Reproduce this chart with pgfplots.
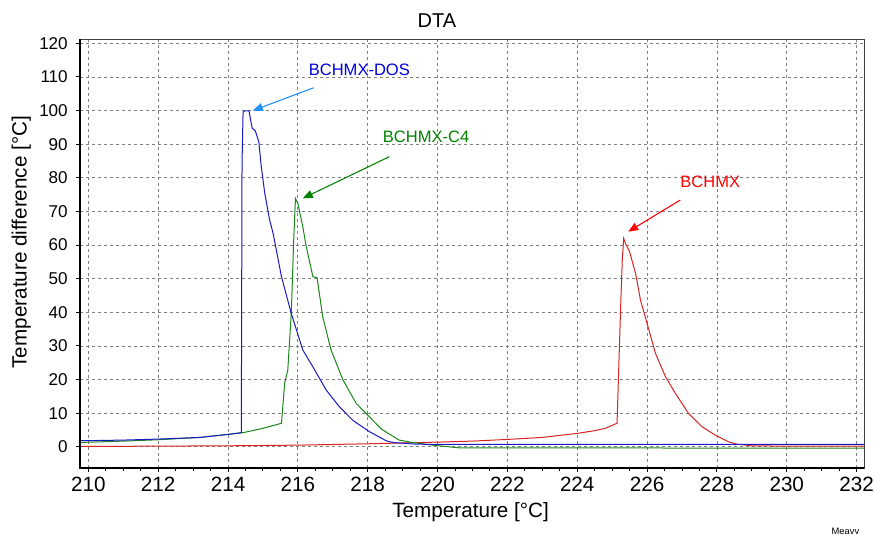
\documentclass[border=0pt]{standalone}
\usepackage{pgfplots}
\pgfplotsset{compat=1.18}
\usepackage{fontspec}
\setmainfont{Liberation Sans}
\usetikzlibrary{arrows.meta}

\definecolor{dosline}{RGB}{25,25,195}
\definecolor{c4line}{RGB}{25,135,25}
\definecolor{bline}{RGB}{215,35,35}
\definecolor{dostext}{RGB}{0,0,225}
\definecolor{dosarrow}{RGB}{30,144,255}
\definecolor{c4text}{RGB}{0,128,0}
\definecolor{btext}{RGB}{255,0,0}

\begin{document}
\begin{tikzpicture}
\useasboundingbox (-60pt,-51pt) rectangle (595.5pt,351pt);
\begin{axis}[
    scale only axis,
    width=588.2pt, height=321.5pt,
    xmin=209.76, xmax=232.22,
    ymin=-6.3, ymax=121.2,
    xtick={210,212,...,232},
    ytick={0,10,...,120},
    minor x tick num=3,
    tick align=outside,
    xtick pos=bottom, ytick pos=left,
    major tick length=3pt, minor tick length=2pt,
    tick style={black, line width=0.75pt},
    axis line style={draw=black!75, line width=0.75pt},
    grid=major,
    major grid style={gray, dash pattern=on 2.25pt off 2.25pt, line width=0.6pt},
    /pgf/number format/assume math mode=true,
    xticklabel style={font=\fontsize{15.5}{18}\selectfont, anchor=base, inner sep=0pt, yshift=-14.5pt},
    yticklabel style={font=\fontsize{12.8}{15}\selectfont, anchor=east, inner sep=0pt, xshift=-6pt},
    title={DTA},
    title style={at={(axis description cs:0.455,1.0252)}, anchor=center, font=\fontsize{15}{18}\selectfont},
    xlabel={Temperature [°C]},
    xlabel style={at={(axis description cs:0.498,-0.1143)}, anchor=base, font=\fontsize{15.5}{18}\selectfont},
    ylabel={Temperature difference [°C]},
    ylabel style={at={(axis description cs:-0.068,0.527)}, anchor=base, font=\fontsize{15.5}{18}\selectfont},
    clip=false,
]
% BCHMX
\addplot[bline, line width=0.75pt] coordinates {
    (209.76,0.1) (212,0.2) (214,0.3) (216,0.5) (218,0.9) (220,1.4) (221,1.7)
    (222,2.2) (223,2.8) (224,4.0) (224.5,4.8) (224.8,5.5) (225.14,7.0)
    (225.24,40.7) (225.29,55.6) (225.33,62.0) (225.38,60.5) (225.5,58.0)
    (225.67,51.6) (225.81,43.7) (226.0,36.7) (226.24,27.8) (226.53,20.8)
    (226.81,15.9) (227.19,9.9) (227.57,6.0) (227.95,3.5) (228.33,1.5)
    (228.57,0.8) (229.0,0.3) (230,0.2) (232.22,0.2)
};
% BCHMX-C4
\addplot[c4line, line width=0.75pt] coordinates {
    (209.76,1.3) (211,1.7) (212,2.1) (213.2,2.8) (214,3.7) (214.43,4.2)
    (215,5.5) (215.53,7.0) (215.62,18.9) (215.71,22.8) (215.81,39.7)
    (215.84,48.6) (215.88,61.5) (215.93,73.9) (216.0,72.4) (216.14,65.5)
    (216.24,59.5) (216.43,50.6) (216.55,50.3) (216.71,38.7) (216.95,28.8)
    (217.29,19.9) (217.67,12.9) (218.05,8.9) (218.4,5.2) (218.9,2.0)
    (219.29,1.3) (219.86,0.5) (220.62,-0.3) (232.22,-0.4)
};
% BCHMX-DOS
\addplot[dosline, line width=0.75pt] coordinates {
    (209.76,1.8) (211,2.0) (212,2.3) (213.2,2.8) (214,3.7) (214.38,4.2)
    (214.40,84) (214.43,99.5) (214.47,99.9) (214.6,99.9) (214.69,94.8)
    (214.78,94.0) (214.88,90.8) (214.95,83.5) (215.05,75.5) (215.19,67.5)
    (215.29,63.5) (215.53,50.6) (215.81,39.7) (216.14,28.8) (216.43,23.8)
    (216.81,16.9) (217.19,11.9) (217.57,7.9) (218.05,4.5) (218.53,1.8)
    (218.71,1.3) (219.38,0.8) (220,0.7) (232.22,0.7)
};
% frame: heavier left and bottom lines
\draw[black, line width=1.5pt] (axis description cs:0,1) -- (axis description cs:0,0) -- (axis description cs:1,0);
% annotations
\node[dostext, font=\fontsize{12.4}{14}\selectfont] at (axis cs:217.76,112.1) {BCHMX-DOS};
\draw[dosarrow, line width=0.8pt, -{Triangle[length=7.5pt,width=6pt]}] (axis cs:216.45,106.8) -- (axis cs:214.71,100.0);
\node[c4text, font=\fontsize{12.4}{14}\selectfont] at (axis cs:219.67,92.3) {BCHMX-C4};
\draw[c4text, line width=0.8pt, -{Triangle[length=7.5pt,width=6pt]}] (axis cs:218.62,86.3) -- (axis cs:216.14,73.9);
\node[btext, font=\fontsize{12.4}{14}\selectfont] at (axis cs:227.81,78.9) {BCHMX};
\draw[btext, line width=0.8pt, -{Triangle[length=7.5pt,width=6pt]}] (axis cs:226.95,73.4) -- (axis cs:225.46,64.0);
\node[font=\fontsize{7}{8}\selectfont] at (axis description cs:0.976,-0.1486) {Meavv};
\end{axis}
\end{tikzpicture}
\end{document}
